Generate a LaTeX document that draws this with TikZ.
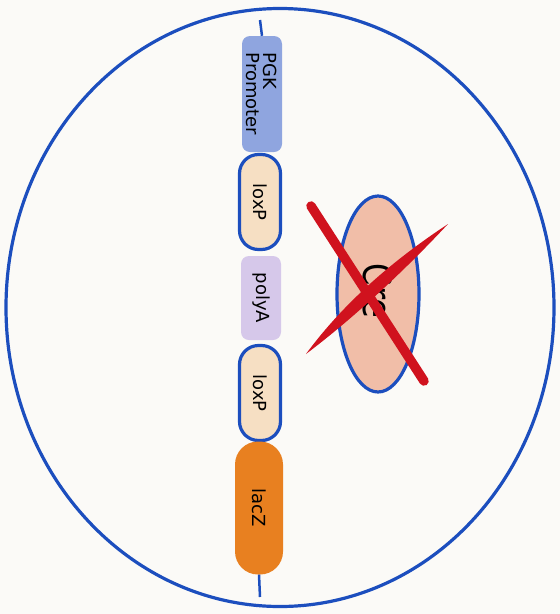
\documentclass[tikz,border=0pt]{standalone}
\usepackage{fontspec}
\setmainfont{DejaVu Sans}
\usetikzlibrary{shapes.geometric}
\definecolor{dnablue}{RGB}{28,78,190}
\definecolor{promfill}{RGB}{143,165,223}
\definecolor{loxfill}{RGB}{246,223,195}
\definecolor{polyfill}{RGB}{214,200,234}
\definecolor{lacfill}{RGB}{232,128,32}
\definecolor{crefill}{RGB}{241,190,168}
\definecolor{xred}{RGB}{208,18,30}
\definecolor{paper}{RGB}{251,250,247}
\tikzset{
  lbl/.style={font=\fontsize{18}{19}\selectfont, rotate=-90, text=black},
  seg/.style={lbl, rectangle, inner sep=0pt},
  loxbox/.style={seg, fill=loxfill, draw=dnablue, line width=3.2pt, minimum width=95pt, minimum height=41pt, rounded corners=19pt},
  dna/.style={dnablue, line width=2.5pt},
}
\begin{document}
\begin{tikzpicture}[x=1pt,y=-1pt]
\fill[paper] (0,0) rectangle (560,614);
\useasboundingbox (0,0) rectangle (560,614);
\draw[dnablue, line width=3.2pt] (280,307.5) ellipse [x radius=274pt, y radius=299pt];
\coordinate (top) at (260,20);
\coordinate (bot) at (260,597);
% segments (rotated: minimum width runs vertically after rotation)
\node[seg, fill=promfill, minimum width=116pt, minimum height=40pt, rounded corners=8pt, align=left] (prom) at (262,94) {PGK\\[-2pt]Promoter};
\node[loxbox] (lox1) at (260,202) {loxP};
\node[seg, fill=polyfill, minimum width=84pt, minimum height=40pt, rounded corners=8pt] (poly) at (261,298) {polyA};
\node[loxbox] (lox2) at (260,393) {loxP};
\node[seg, fill=lacfill, minimum width=133pt, minimum height=48pt, rounded corners=23pt] (lacz) at (259,508) {lacZ};
\draw[dna] (top) -- (prom.west);
\draw[dna] (lacz.east) -- (bot);
% Cre
\node[ellipse, fill=crefill, draw=dnablue, line width=3.2pt, minimum width=82pt, minimum height=196pt, inner sep=0pt] (cre) at (378,294) {};
\node[rotate=-90, inner sep=0pt, font=\fontsize{40}{42}\selectfont] (cretxt) at (378,291) {\scalebox{0.8}[1]{Cre}};
% red X
\draw[xred, line width=9.5pt, line cap=round] (311,206) -- (424,381);
\fill[xred] (306,354) .. controls (355,317) and (405,270) .. (448,224) .. controls (395,259) and (345,301) .. (306,354) -- cycle;
\end{tikzpicture}
\end{document}
